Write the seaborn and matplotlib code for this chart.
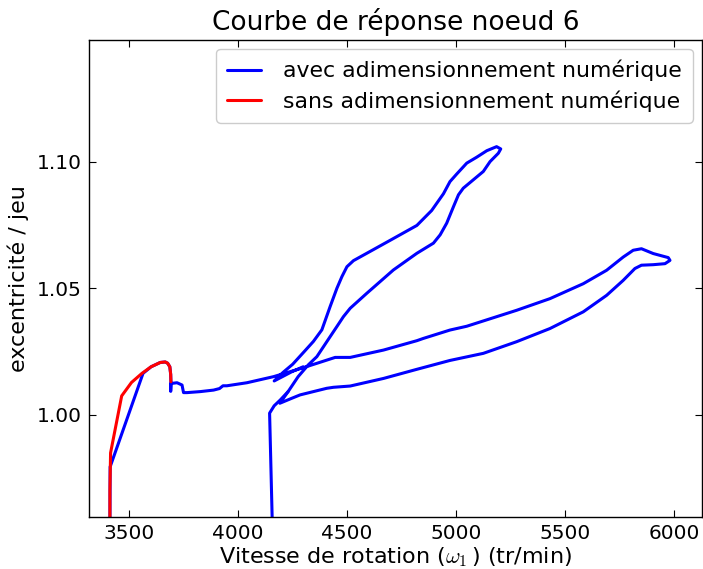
import matplotlib
matplotlib.use("Agg")
import matplotlib.pyplot as plt
import seaborn as sns

# ── Data (speed in tr/min, eccentricity / clearance) ──

avec_w = [3411, 3412, 3563, 3600, 3642, 3665, 3676, 3686, 3690, 3691, 3690, 3691,
          3719, 3742, 3749, 3765, 3826, 3887, 3914, 3930, 3948, 4040, 4162, 4290,
          4445, 4514, 4667, 4820, 4850, 4972, 5049, 5278, 5431, 5584, 5691, 5767,
          5813, 5851, 5905, 5974, 5982, 5959, 5905, 5851, 5821, 5767, 5691, 5584,
          5431, 5278, 5125, 4972, 4820, 4667, 4514, 4437, 4406, 4284, 4244, 4191,
          4229, 4275, 4321, 4361, 4422, 4453, 4483, 4514, 4590, 4712, 4820, 4896,
          4927, 4957, 4988, 5011, 5033, 5079, 5125, 5156, 5194, 5205, 5186, 5141,
          5094, 5049, 5003, 4972, 4942, 4888, 4820, 4697, 4590, 4529, 4499, 4476,
          4453, 4422, 4384, 4345, 4303, 4250, 4206, 4165, 4245, 4298]
avec_e = [0.955, 0.9795, 1.0164, 1.0190, 1.0207, 1.0209, 1.0204, 1.0190, 1.0160, 1.0131, 1.0093, 1.0124,
          1.0127, 1.0118, 1.0088, 1.0088, 1.0092, 1.0098, 1.0104, 1.0115, 1.0115, 1.0127, 1.0151, 1.0184,
          1.0227, 1.0227, 1.0256, 1.0293, 1.0302, 1.0335, 1.0350, 1.0413, 1.0459, 1.0518, 1.0571, 1.0623,
          1.0650, 1.0656, 1.0637, 1.0621, 1.0610, 1.0597, 1.0593, 1.0591, 1.0578, 1.0531, 1.0472, 1.0407,
          1.0341, 1.0289, 1.0243, 1.0215, 1.0180, 1.0144, 1.0114, 1.0109, 1.0105, 1.0079, 1.0065, 1.0046,
          1.0092, 1.0151, 1.0197, 1.0230, 1.0309, 1.0349, 1.0388, 1.0421, 1.0480, 1.0572, 1.0638, 1.0678,
          1.0711, 1.0757, 1.0822, 1.0869, 1.0895, 1.0928, 1.0961, 1.1000, 1.1033, 1.1050, 1.1059, 1.1043,
          1.1017, 1.0994, 1.0951, 1.0921, 1.0873, 1.0807, 1.0748, 1.0689, 1.0638, 1.0609, 1.0585, 1.0546,
          1.0500, 1.0428, 1.0336, 1.0290, 1.0250, 1.0200, 1.0168, 1.0134, 1.0170, 1.0190]

# lower branch that drops out of the frame near 4150 tr/min
branche_w = [4157, 4144, 4165, 4193, 4229]
branche_e = [0.955, 1.0007, 1.0036, 1.0059, 1.0092]

sans_w = [3411, 3411, 3414, 3465, 3510, 3558, 3600, 3642, 3665, 3676, 3686, 3690, 3691]
sans_e = [0.955, 0.970, 0.985, 1.0075, 1.0128, 1.0164, 1.0190, 1.0207, 1.0209, 1.0204, 1.0190, 1.0160, 1.0131]

x_ticks = [3500, 4000, 4500, 5000, 5500, 6000]
y_ticks = [1.00, 1.05, 1.10]
y_tick_labels = ["1.00", "1.05", "1.10"]

# ── Style ─────────────────────────────────────────────────────────────────────

sns.set_style("white")
plt.rcParams.update({
    "font.family": ["DejaVu Sans"],
    "mathtext.fontset": "cm",
    "text.color": "black",
    "axes.labelcolor": "black",
    "axes.edgecolor": "black",
    "axes.linewidth": 1.0,
    "xtick.direction": "in",
    "ytick.direction": "in",
    "xtick.top": True,
    "ytick.right": True,
    "xtick.bottom": True,
    "ytick.left": True,
    "xtick.color": "black",
    "ytick.color": "black",
    "xtick.major.size": 5,
    "ytick.major.size": 5,
    "xtick.major.pad": 5,
    "ytick.major.pad": 5,
})

fig = plt.figure(figsize=(7.03, 5.69), dpi=100)
ax = fig.add_axes([0.1266, 0.0914, 0.8714, 0.8383])

sns.lineplot(x=avec_w, y=avec_e, sort=False, estimator=None, color="blue",
             lw=2.2, ax=ax, label="avec adimensionnement numérique")
sns.lineplot(x=branche_w, y=branche_e, sort=False, estimator=None, color="blue",
             lw=2.2, ax=ax)
sns.lineplot(x=sans_w, y=sans_e, sort=False, estimator=None, color="red",
             lw=2.2, ax=ax, label="sans adimensionnement numérique")

ax.set_xlim(3315, 6127)
ax.set_ylim(0.9597, 1.148)
ax.set_xticks(x_ticks)
ax.set_yticks(y_ticks)
ax.set_yticklabels(y_tick_labels)
ax.tick_params(labelsize=14.5)

ax.set_title("Courbe de réponse noeud 6", fontsize=19, pad=7)
ax.set_xlabel(r"Vitesse de rotation ($\omega_1\,$) (tr/min)", fontsize=16, labelpad=2)
ax.set_ylabel("excentricité / jeu", fontsize=16, labelpad=6)

ax.legend(loc="upper right", fontsize=15.8, handlelength=1.55, handletextpad=1.0,
          borderpad=0.5, labelspacing=0.4, borderaxespad=0.4,
          fancybox=True, edgecolor="0.8", framealpha=1.0)

fig.savefig("out.png", dpi=100)
